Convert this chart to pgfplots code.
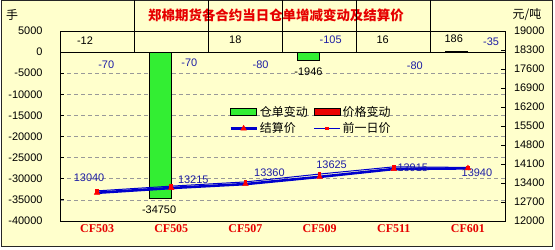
\documentclass[border=0pt]{standalone}
\usepackage{fontspec}
\setmainfont{Liberation Sans}
\newfontfamily\cjk{Noto Sans CJK SC}
\newfontfamily\serifb{Liberation Serif}
\usepackage{pgfplots}
\pgfplotsset{compat=1.18}
\definecolor{bg}{RGB}{255,255,204}
\definecolor{bargreen}{RGB}{51,238,51}
\definecolor{barred}{RGB}{235,0,0}
\definecolor{lineblue}{RGB}{0,0,204}
\definecolor{labblue}{RGB}{30,30,165}
\definecolor{titlered}{RGB}{230,0,0}
\begin{document}
\begin{tikzpicture}[lab/.style={font=\fontsize{11}{13}\selectfont, inner sep=0pt}]
\path[use as bounding box, fill=white] (0bp,0bp) rectangle (555bp,250bp);
\draw[fill=bg, draw=black!85, line width=1bp] (1bp,3bp) rectangle (552bp,249bp);
\node[font=\cjk\bfseries\fontsize{13.5}{15}\selectfont, text=titlered] at (276bp,235bp) {郑棉期货各合约当日仓单增减变动及结算价};
\node[font=\cjk\fontsize{12}{14}\selectfont] at (12bp,235bp) {手};
\node[font=\cjk\fontsize{12}{14}\selectfont] at (527bp,235bp) {元/吨};

\begin{axis}[
  at={(60bp,29bp)}, anchor=south west, scale only axis,
  width=445bp, height=190bp,
  xmin=0, xmax=6, ymin=-40000, ymax=5000,
  xtick={0.5,1.5,2.5,3.5,4.5,5.5},
  xticklabels={CF503,CF505,CF507,CF509,CF511,CF601},
  x tick style={draw=none},
  xticklabel style={font=\serifb\bfseries\fontsize{12}{14}\selectfont, text=titlered},
  scaled y ticks=false,
  ytick={-40000,-35000,-30000,-25000,-20000,-15000,-10000,-5000,0,5000},
  yticklabels={-40000,-35000,-30000,-25000,-20000,-15000,-10000,-5000,0,5000},
  yticklabel style={font=\fontsize{11}{13}\selectfont, xshift=-14bp},
  ytick pos=left,
  y tick style={black, line width=0.8bp},
  major tick length=4bp, tick align=inside,
  ymajorgrids,
  grid style={black!40, dash pattern=on 4bp off 3bp, line width=0.6bp},
  axis line style={black, line width=0.8bp},
  clip=false,
]
\addplot[ybar, bar width=0.3, bar shift=-0.15, fill=bargreen, draw=black, line width=1bp]
  coordinates {(0.5,-12) (1.5,-34750) (2.5,18) (3.5,-1946) (4.5,16) (5.5,186)};
\addplot[ybar, bar width=0.3, bar shift=0.15, fill=barred, draw=black, line width=1bp]
  coordinates {(0.5,-70) (1.5,-70) (2.5,-80) (3.5,-105) (4.5,-80) (5.5,-35)};
\draw[black, line width=1bp] (axis cs:0,0) -- (axis cs:6,0);
\pgfplotsinvokeforeach{1,2,3,4,5}{\draw[black, line width=0.8bp] (axis cs:#1,0) -- ++(0,4bp);}
% green bar labels
\node[lab, xshift=-1bp, yshift=11bp] at (axis cs:0.35,0) {-12};
\node[lab, xshift=-1bp, yshift=-11bp] at (axis cs:1.35,-34750) {-34750};
\node[lab, xshift=1bp, yshift=12bp] at (axis cs:2.35,0) {18};
\node[lab, yshift=-11bp] at (axis cs:3.35,-1946) {-1946};
\node[lab, yshift=12bp] at (axis cs:4.35,0) {16};
\node[lab, xshift=-3bp, yshift=13bp] at (axis cs:5.35,186) {186};
% red bar labels
\node[lab, text=labblue, xshift=-2bp, yshift=-13bp] at (axis cs:0.65,0) {-70};
\node[lab, text=labblue, xshift=7bp, yshift=-11bp] at (axis cs:1.65,0) {-70};
\node[lab, text=labblue, xshift=4bp, yshift=-13bp] at (axis cs:2.65,0) {-80};
\node[lab, text=labblue, yshift=12bp] at (axis cs:3.65,0) {-105};
\node[lab, text=labblue, xshift=10bp, yshift=-14bp] at (axis cs:4.65,0) {-80};
\node[lab, text=labblue, xshift=12bp, yshift=10bp] at (axis cs:5.65,0) {-35};
\end{axis}

\begin{axis}[
  at={(60bp,29bp)}, anchor=south west, scale only axis,
  width=445bp, height=190bp,
  xmin=0, xmax=6, ymin=12000, ymax=19000,
  axis y line*=right, axis x line=none,
  scaled y ticks=false,
  ytick={12000,12700,13400,14100,14800,15500,16200,16900,17600,18300,19000},
  yticklabels={12000,12700,13400,14100,14800,15500,16200,16900,17600,18300,19000},
  yticklabel style={font=\fontsize{11}{13}\selectfont, xshift=5.5bp},
  y tick style={black, line width=0.8bp},
  major tick length=4bp, tick align=inside,
  axis line style={black, line width=0.8bp},
  clip=false,
  legend image code/.code={\draw[mark repeat=2, mark phase=2, #1] plot coordinates {(0bp,0bp) (13bp,0bp) (26bp,0bp)};},
  legend columns=2,
  legend cell align=left,
  legend style={at={(axis description cs:0.38,0.616)}, anchor=north west,
    draw=none, fill=none, font=\cjk\fontsize{12}{14}\selectfont,
    inner sep=0pt, row sep=1bp,
    /tikz/every even column/.append style={column sep=4bp}},
]
\addlegendimage{legend image code/.code={\draw[fill=bargreen, draw=black, line width=0.6bp] (0bp,-3.5bp) rectangle (26bp,3.5bp);}}
\addlegendentry{仓单变动}
\addlegendimage{legend image code/.code={\draw[fill=barred, draw=black, line width=0.6bp] (0bp,-3.5bp) rectangle (26bp,3.5bp);}}
\addlegendentry{价格变动}
\addplot[lineblue, line width=2.6bp, mark=triangle*, mark size=3.3bp, mark options={fill=red, draw=red, line width=0.4bp}]
  coordinates {(0.5,13040) (1.5,13215) (2.5,13360) (3.5,13625) (4.5,13915) (5.5,13940)};
\addlegendentry{结算价}
\addplot[lineblue, line width=1bp, mark=square*, mark size=1.3bp, mark options={fill=red, draw=red}]
  coordinates {(0.5,13110) (1.5,13285) (2.5,13440) (3.5,13730) (4.5,13995) (5.5,13975)};
\addlegendentry{前一日价}
\node[lab, text=labblue, xshift=-8bp, yshift=15bp] at (axis cs:0.5,13040) {13040};
\node[lab, text=labblue, xshift=22bp, yshift=8bp] at (axis cs:1.5,13215) {13215};
\node[lab, text=labblue, xshift=24bp, yshift=11bp] at (axis cs:2.5,13360) {13360};
\node[lab, text=labblue, xshift=12bp, yshift=12bp] at (axis cs:3.5,13625) {13625};
\node[lab, text=labblue, xshift=19bp, yshift=1bp] at (axis cs:4.5,13915) {13915};
\node[lab, text=labblue, xshift=9bp, yshift=-4bp] at (axis cs:5.5,13940) {13940};
\end{axis}
\end{tikzpicture}
\end{document}
